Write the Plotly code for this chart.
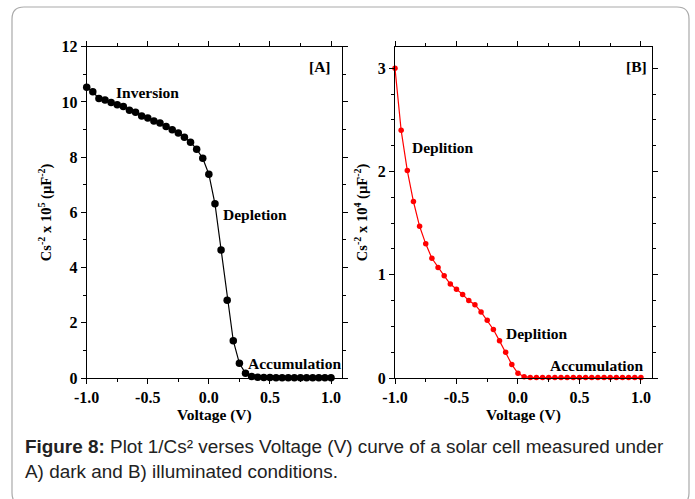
import plotly.graph_objects as go

# ---- data ----
voltage = [round(-1.0 + 0.05 * i, 2) for i in range(41)]

dark_cs = [10.53, 10.37, 10.12, 10.07, 9.98, 9.90, 9.83, 9.70, 9.63, 9.49,
           9.42, 9.31, 9.24, 9.11, 8.99, 8.87, 8.72, 8.54, 8.29, 7.96,
           7.38, 6.31, 4.64, 2.82, 1.35, 0.53, 0.17, 0.05, 0.03, 0.02,
           0.02, 0.01, 0.01, 0.01, 0.01, 0.01, 0.01, 0.01, 0.01, 0.01, 0.01]

light_cs = [3.00, 2.40, 2.01, 1.71, 1.47, 1.30, 1.16, 1.07, 0.99, 0.91,
            0.86, 0.81, 0.75, 0.71, 0.64, 0.56, 0.47, 0.36, 0.25, 0.13,
            0.045, 0.013, 0.006, 0.005, 0.005, 0.005, 0.005, 0.005, 0.005, 0.005,
            0.005, 0.005, 0.005, 0.005, 0.005, 0.005, 0.005, 0.005, 0.005, 0.005, 0.005]

x_tickvals = [-1.0, -0.5, 0.0, 0.5, 1.0]
x_ticktext = ["-1.0", "-0.5", "0.0", "0.5", "1.0"]
a_tickvals = [0, 2, 4, 6, 8, 10, 12]
b_tickvals = [0, 1, 2, 3]

caption = ("<b>Figure 8:</b> Plot 1/Cs² verses Voltage (V) curve of a solar cell measured under"
           "<br>A) dark and B) illuminated conditions.")

W, H = 695, 499
def px(x):
    return x / W
def py(y):
    return 1 - y / H

SERIF = "Liberation Serif, Times New Roman, serif"

fig = go.Figure()
fig.add_trace(go.Scatter(x=voltage, y=dark_cs, mode="lines+markers",
                         line=dict(color="black", width=1.2),
                         marker=dict(color="black", size=7.5),
                         xaxis="x", yaxis="y", showlegend=False, cliponaxis=False))
fig.add_trace(go.Scatter(x=voltage, y=light_cs, mode="lines+markers",
                         line=dict(color="#ff0000", width=1.2),
                         marker=dict(color="#ff0000", size=5.5),
                         xaxis="x2", yaxis="y2", showlegend=False, cliponaxis=False))

tickfont = dict(family=SERIF, size=16, color="black", weight="bold")
ytitlefont = dict(family=SERIF, size=14.5, color="black", weight="bold")
xtitlefont = dict(family=SERIF, size=15.5, color="black", weight="bold")

common_x = dict(range=[-1.0, 1.09], tickvals=x_tickvals, ticktext=x_ticktext,
                ticks="outside", ticklen=5, tickwidth=1, tickcolor="black",
                minor=dict(ticks="outside", ticklen=3, dtick=0.25, tickcolor="black", showgrid=False),
                showline=True, linecolor="black", linewidth=1.2, mirror="allticks",
                showgrid=False, zeroline=False, tickfont=tickfont, automargin=False,
                title=dict(text="Voltage (V)", font=xtitlefont, standoff=0))
common_y = dict(ticks="outside", ticklen=5, tickwidth=1, tickcolor="black",
                showline=True, linecolor="black", linewidth=1.2, mirror="allticks",
                showgrid=False, zeroline=False, tickfont=tickfont, automargin=False)

fig.update_layout(
    width=W, height=H, margin=dict(l=0, r=0, t=0, b=0, autoexpand=False),
    paper_bgcolor="white", plot_bgcolor="white",
    xaxis=dict(domain=[px(86.7), px(342)], anchor="y", **common_x),
    yaxis=dict(domain=[py(378), py(46.7)], anchor="x", range=[0, 12],
               tickvals=a_tickvals,
               minor=dict(ticks="outside", ticklen=3, dtick=1, tickcolor="black", showgrid=False),
               title=dict(text="Cs<sup>-2</sup> x 10<sup>5</sup> (µF<sup>-2</sup>)", font=ytitlefont, standoff=6),
               **common_y),
    xaxis2=dict(domain=[px(395), px(652)], anchor="y2", **common_x),
    yaxis2=dict(domain=[py(378), py(46.7)], anchor="x2", range=[0, 3.21],
                tickvals=b_tickvals,
                minor=dict(ticks="outside", ticklen=3, dtick=0.25, tickcolor="black", showgrid=False),
                title=dict(text="Cs<sup>-2</sup> x 10<sup>4</sup> (µF<sup>-2</sup>)", font=ytitlefont, standoff=6),
                **common_y),
)

ann_font = dict(family=SERIF, size=15.5, color="black", weight="bold")
labels_a = [("[A]", 0.91, 11.28), ("Inversion", -0.50, 10.34),
            ("Depletion", 0.377, 5.93), ("Accumulation", 0.70, 0.51)]
labels_b = [("[B]", 0.96, 3.02), ("Deplition", -0.607, 2.23),
            ("Deplition", 0.156, 0.43), ("Accumulation", 0.64, 0.12)]
for t, x, y in labels_a:
    fig.add_annotation(text=t, x=x, y=y, xref="x", yref="y", showarrow=False, font=ann_font)
for t, x, y in labels_b:
    fig.add_annotation(text=t, x=x, y=y, xref="x2", yref="y2", showarrow=False, font=ann_font)

fig.add_annotation(text=caption, x=px(23), y=py(459), xref="paper", yref="paper",
                   xanchor="left", yanchor="middle", align="left", showarrow=False,
                   font=dict(family="Liberation Sans, Arial, sans-serif", size=18.9, color="#222222"))

# rounded border frame
r = 12
x0, x1, y0, y1 = 12, 689, 7, 505
path = (f"M {px(x0+r)},{py(y0)} L {px(x1-r)},{py(y0)} Q {px(x1)},{py(y0)} {px(x1)},{py(y0+r)} "
        f"L {px(x1)},{py(y1-r)} Q {px(x1)},{py(y1)} {px(x1-r)},{py(y1)} "
        f"L {px(x0+r)},{py(y1)} Q {px(x0)},{py(y1)} {px(x0)},{py(y1-r)} "
        f"L {px(x0)},{py(y0+r)} Q {px(x0)},{py(y0)} {px(x0+r)},{py(y0)} Z")
fig.add_shape(type="path", path=path, xref="paper", yref="paper",
              line=dict(color="#aaaaaa", width=1.2), layer="below")

fig.write_html("out.html")
